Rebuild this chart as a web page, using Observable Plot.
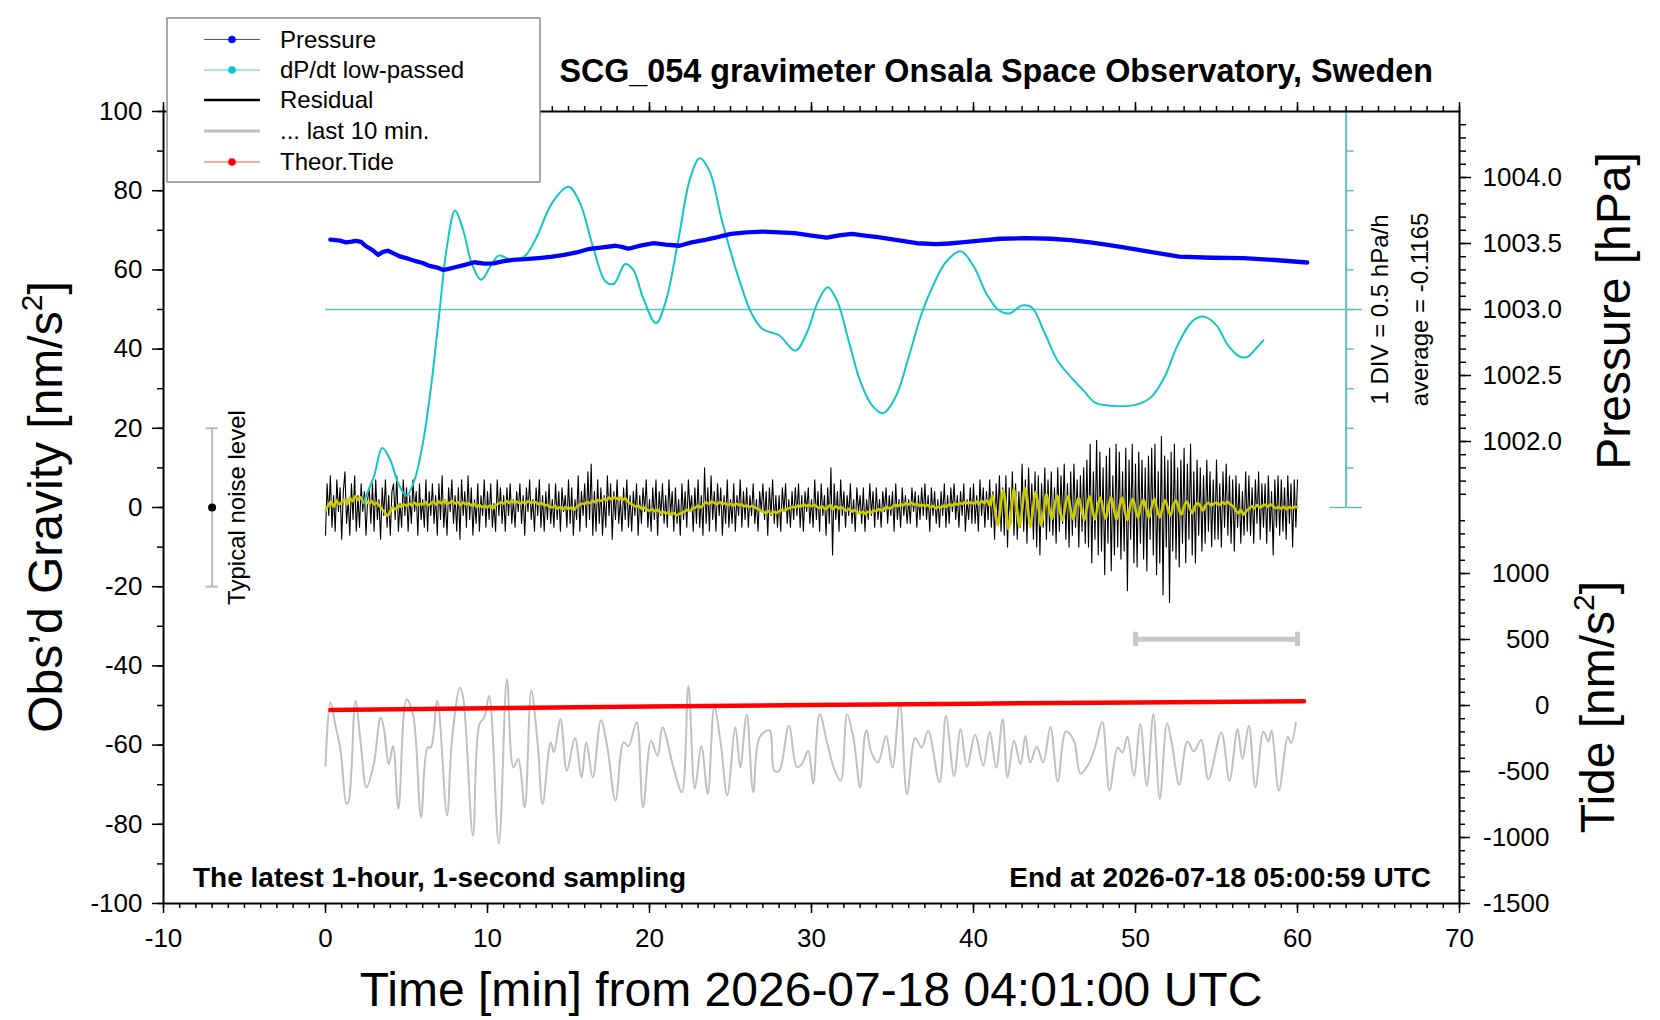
<!DOCTYPE html>
<html>
<head>
<meta charset="utf-8">
<script src="https://cdn.jsdelivr.net/npm/d3@7"></script>
<script src="https://cdn.jsdelivr.net/npm/@observablehq/plot@0.6"></script>
<style>
  html, body { margin: 0; padding: 0; background: #ffffff; }
  #chart svg { display: block; }
</style>
</head>
<body>
<div id="chart"></div>
<script>
// ---------------- DATA ----------------
const titleText = "SCG_054 gravimeter Onsala Space Observatory, Sweden";
const xLabelText = "Time [min] from 2026-07-18 04:01:00 UTC";
const noteLeft = "The latest 1-hour, 1-second sampling";
const noteRight = "End at 2026-07-18 05:00:59 UTC";
const legendLabels = ["Pressure", "dP/dt low-passed", "Residual", "... last 10 min.", "Theor.Tide"];

// tick values
const xMajorTicks = [-10, 0, 10, 20, 30, 40, 50, 60, 70];
const xMinorTicks = d3.range(-10, 71, 1);
const yMajorTicks = [-100, -80, -60, -40, -20, 0, 20, 40, 60, 80, 100];
const yMinorTicks = d3.range(-100, 101, 10);
const pressureMajorTicks = [1002.0, 1002.5, 1003.0, 1003.5, 1004.0];
const pressureMinorTicks = d3.range(16, 45).map(k => 1000 + k / 10);
const tideMajorTicks = [-1500, -1000, -500, 0, 500, 1000];
const tideMinorTicks = d3.range(-1500, 1401, 100);

// Pressure [hPa]
const pressureTime = [0.3, 0.48, 0.9, 1.27, 1.6, 1.87, 2.2, 2.46, 2.9, 3.25, 3.55, 3.85, 4.2, 4.64, 5.1, 5.63, 6.0, 6.42, 6.9, 7.28, 7.6, 8.0,
  8.6, 9.19, 9.8, 10.37, 11.0, 11.56, 12.3, 13.15, 13.9, 14.73, 15.5, 16.31, 17.1, 17.9, 18.3, 18.69, 19.5, 20.27, 21.0, 21.85,
  22.6, 23.43, 24.2, 25.02, 26.0, 27.0, 28.0, 28.97, 30.0, 30.95, 31.7, 32.5, 33.3, 34.1, 35.3, 36.5, 37.7, 38.5, 39.26,
  40.4, 41.64, 43.2, 44.8, 46.0, 47.2, 48.4, 49.55, 51.1, 52.7, 54.7, 56.67, 58.6, 60.6];
const pressureHPa = [1003.530, 1003.528, 1003.522, 1003.508, 1003.514, 1003.520, 1003.512, 1003.483, 1003.450, 1003.414, 1003.436, 1003.445, 1003.425, 1003.400, 1003.385, 1003.364, 1003.352, 1003.330, 1003.318, 1003.300, 1003.308, 1003.320,
  1003.338, 1003.358, 1003.348, 1003.350, 1003.366, 1003.376, 1003.381, 1003.390, 1003.398, 1003.414, 1003.432, 1003.460, 1003.470, 1003.483, 1003.474, 1003.460, 1003.486, 1003.502, 1003.492, 1003.483,
  1003.508, 1003.528, 1003.548, 1003.573, 1003.584, 1003.590, 1003.585, 1003.578, 1003.560, 1003.545, 1003.562, 1003.573, 1003.560, 1003.548, 1003.525, 1003.502, 1003.495, 1003.500, 1003.508,
  1003.522, 1003.536, 1003.540, 1003.536, 1003.526, 1003.508, 1003.488, 1003.465, 1003.432, 1003.400, 1003.392, 1003.389, 1003.375, 1003.356];

// dP/dt low-passed, in plot divisions (centre line = average, 10 units = 0.5 hPa/h)
const dpdtTime = [2.3, 3.0, 3.5, 4.0, 4.5, 5.0, 5.5, 6.0, 6.5, 7.0,
  7.5, 8.0, 8.5, 9.0, 9.6, 10.2, 10.7, 11.5, 12.3, 13.0,
  14.0, 15.0, 15.7, 16.5, 17.3, 17.8, 18.5, 19.0, 19.6, 20.4,
  21.0, 21.8, 22.5, 23.1, 23.7, 24.5, 25.5, 26.3, 27.0, 28.0,
  29.0, 29.7, 30.4, 31.0, 31.6, 32.3, 33.0, 33.7, 34.4, 35.2,
  36.0, 36.8, 37.5, 38.3, 39.2, 40.0, 40.8, 41.5, 42.2, 43.0,
  43.6, 44.4, 45.2, 46.0, 46.8, 47.5, 48.5, 49.5, 50.3, 51.0,
  51.8, 52.6, 53.5, 54.2, 55.0, 55.7, 56.4, 56.9, 57.4, 57.9];
const dpdtPlotted = [1, 8, 15, 12, 6, 3, 7, 16, 30, 48,
  66, 75, 70, 62, 57.5, 61, 63.6, 62.5, 63.5, 68,
  77, 81, 77, 66, 57, 56.5, 61.5, 60, 53, 46.5,
  52, 68, 83, 88.2, 85, 72, 58, 49, 45, 43.5,
  39.6, 44, 52, 55.6, 52, 42, 32, 26, 23.8, 28,
  38, 49, 56, 62, 64.7, 61, 54, 50, 49, 51,
  50.5, 44, 37, 33, 29.5, 26.5, 25.7, 25.6, 26.3, 28,
  33, 41, 47, 48.2, 46, 41, 38.2, 38, 40, 42.2];

// Residual [nm/s^2], one value every 6 s (10 per minute), 0..60 min
const residual = [
  -7, 6, -2, 8, -5, 3, -6, 7, -1, 5,
  -8, 4, 9, -4, 2, -7, 6, -3, 8, -6,
  3, -5, 6, -1, 4, -7, 2, 5, -4, 6,
  -6, 7, -3, 2, -8, 5, -2, 7, -5, 3,
  -7, 4, 6, -3, 8, -6, 1, -5, 7, -2,
  5, -6, 3, -4, 7, -1, 4, -7, 6, -3,
  2, -5, 7, -6, 4, -2, 6, -4, 3, -7,
  6, -3, 8, -5, 2, -7, 5, -1, 7, -4,
  3, -6, 5, -8, 7, -2, 4, -5, 8, -3,
  5, -7, 2, -4, 6, -6, 3, -2, 7, -5,
  4, -3, 6, -5, 1, -6, 7, -2, 5, -4,
  3, -6, 5, -2, 6, -4, 2, -5, 4, -1,
  6, -4, 3, -7, 5, -1, 7, -3, 2, -6,
  5, -2, 7, -5, 3, -6, 4, -3, 6, -4,
  2, -5, 6, -3, 4, -6, 5, -1, 3, -5,
  7, -4, 5, -7, 2, -3, 8, -6, 4, -2,
  6, -5, 9, -3, 11, -7, 4, -6, 7, -4,
  5, -7, 3, -5, 8, -2, 6, -8, 4, -3,
  7, -4, 2, -6, 5, -3, 7, -5, 3, -6,
  4, -2, 6, -7, 3, -4, 5, -1, 7, -5,
  2, -6, 5, -3, 7, -7, 4, -2, 6, -4,
  3, -5, 7, -2, 4, -6, 5, -4, 2, -7,
  6, -3, 4, -5, 7, -1, 3, -6, 5, -4,
  7, -5, 3, -7, 10, -4, 5, -6, 8, -3,
  4, -6, 6, -2, 5, -7, 3, -4, 7, -5,
  2, -4, 6, -6, 3, -2, 7, -5, 4, -3,
  5, -5, 3, -2, 6, -4, 2, -6, 4, -1,
  6, -3, 4, -7, 5, -2, 7, -4, 3, -5,
  3, -6, 5, -1, 6, -4, 2, -5, 4, -3,
  5, -2, 6, -5, 3, -6, 4, -1, 5, -4,
  2, -5, 7, -3, 4, -6, 6, -2, 3, -7,
  5, -4, 10, -12, 6, -3, 4, -6, 7, -2,
  4, -5, 3, -2, 6, -4, 2, -6, 5, -1,
  3, -4, 5, -6, 2, -3, 6, -2, 4, -5,
  5, -3, 2, -5, 4, -1, 5, -4, 3, -2,
  4, -6, 6, -3, 2, -5, 5, -2, 3, -4,
  2, -4, 5, -1, 4, -5, 3, -3, 5, -2,
  6, -3, 3, -6, 5, -2, 4, -4, 2, -5,
  4, -2, 6, -5, 3, -4, 5, -1, 6, -3,
  3, -5, 4, -2, 6, -6, 2, -3, 5, -4,
  6, -4, 3, -6, 7, -2, 5, -5, 4, -3,
  7, -5, 4, -8, 6, -3, 8, -6, 5, -7,
  8, -10, 5, -4, 9, -7, 6, -8, 4, -5,
  11, -6, 7, -9, 10, -4, 6, -8, 9, -10,
  8, -12, 6, -5, 10, -8, 7, -6, 9, -7,
  5, -9, 10, -6, 8, -4, 11, -8, 6, -10,
  9, -7, 11, -5, 7, -10, 8, -6, 10, -9,
  12, -10, 16, -14, 9, -8, 17, -12, 14, -11,
  10, -17, 13, -9, 15, -16, 8, -12, 16, -10,
  14, -13, 9, -11, 15, -21, 12, -8, 16, -14,
  11, -15, 14, -9, 12, -13, 10, -16, 13, -8,
  15, -12, 16, -17, 9, -14, 18, -22, 13, -10,
  12, -24, 14, -11, 16, -13, 10, -15, 12, -9,
  15, -14, 11, -8, 16, -12, 9, -14, 12, -7,
  10, -11, 8, -9, 12, -6, 9, -10, 7, -8,
  12, -8, 6, -10, 9, -5, 11, -7, 8, -9,
  7, -11, 8, -5, 6, -9, 4, -7, 9, -6,
  8, -7, 5, -9, 7, -4, 9, -8, 6, -5,
  6, -9, 8, -6, 4, -12, 7, -5, 8, -7,
  7, -6, 5, -8, 8, -4, 6, -10, 7, -5,
  7];

// Low-passed residual (yellow) [nm/s^2], one value every 10 s (6 per minute)
const residualSmooth = [
  -0.8, 0.5, 1.5, 0.2, 1.8, 0.8,
  1.3, 2.0, 0.8, 2.5, 1.5, 2.8,
  2.0, 2.6, 1.2, 1.8, 1.0, 1.6,
  0.8, 1.2, 0.4, -0.5, -1.2, -2.1,
  -1.0, 0.1, -0.5, 0.5, 0.2, 0.8,
  0.4, 1.0, 0.5, 1.2, 0.6, 0.9,
  0.8, 1.4, 0.6, 1.0, 1.5, 0.7,
  1.5, 1.0, 1.8, 0.9, 1.2, 1.6,
  1.0, 1.4, 0.6, 1.3, 0.8, 1.1,
  0.5, 0.9, 0.2, 0.6, 0.1, 0.4,
  0.0, 0.5, -0.2, 0.6, 0.9, 1.3,
  1.0, 1.6, 1.1, 1.7, 1.2, 1.5,
  1.0, 1.4, 0.9, 1.6, 1.2, 1.3,
  1.3, 0.8, 1.2, 0.5, 0.7, 0.2,
  0.0, 0.4, -0.3, 0.1, -0.4, 0.2,
  -0.4, 0.0, -0.6, 0.2, 0.6, 1.0,
  0.9, 1.4, 1.1, 1.7, 1.3, 1.9,
  1.7, 2.2, 1.8, 2.5, 2.0, 2.6,
  2.2, 2.5, 1.9, 2.3, 1.5, 1.0,
  0.6, 0.2, 0.5, -0.3, 0.0, -0.5,
  -0.8, -0.4, -1.0, -0.6, -1.3, -1.0,
  -1.5, -1.2, -1.8, -1.4, -2.0, -1.6,
  -1.4, -1.0, -0.6, -0.9, -0.2, 0.0,
  0.4, 0.0, 0.8, 1.3, 0.9, 1.5,
  1.2, 0.8, 1.4, 0.9, 1.1, 0.6,
  0.9, 0.5, 1.0, 0.6, 0.8, 0.3,
  0.5, 0.1, 0.4, 0.0, -0.3, -0.8,
  -1.0, -1.4, -0.9, -1.5, -1.1, -1.3,
  -1.0, -0.6, -0.9, -0.3, -0.1, 0.2,
  0.0, 0.5, 0.2, 0.8, 0.4, 0.6,
  0.3, 0.7, 0.2, -0.2, 0.3, -0.4,
  0.0, 0.6, -0.5, 0.3, -0.2, 0.1,
  -0.4, -0.8, -0.3, -1.0, -0.6, -1.2,
  -1.5, -1.1, -1.6, -1.0, -1.3, -0.8,
  -0.9, -0.4, -0.7, -0.2, 0.1, -0.3,
  0.2, 0.6, 0.3, 0.9, 0.5, 1.1,
  0.8, 1.2, 0.7, 1.0, 0.4, 0.7,
  0.3, 0.6, 0.1, 0.4, -0.2, 0.2,
  0.0, 0.5, 0.2, 0.8, 0.5, 1.0,
  0.7, 1.2, 0.9, 1.4, 1.0, 1.3,
  1.0, 1.5, 0.8, 1.6, 1.1, 1.8,
  0.5, 3.0, -1.0, -4.5, 0.0, 4.5,
  0.5, -5.5, -1.0, 4.8, 0.0, -5.0,
  -0.5, 5.0, 0.5, -5.0, -0.5, 4.0,
  0.5, -4.5, -1.0, 3.5, 0.0, -3.0,
  0.5, 3.0, -1.0, -3.2, 0.2, 2.8,
  -0.5, -3.0, 0.5, 2.5, -0.5, -3.2,
  0.0, 2.8, -0.5, -3.0, 0.5, 2.5,
  -0.5, -2.8, 0.5, 2.6, -0.5, -3.0,
  0.0, 2.5, -0.8, -3.2, 0.3, 2.2,
  -0.5, -2.5, 0.5, 2.0, -0.5, -2.6,
  0.2, 2.2, -0.5, -2.5, 0.0, 1.8,
  -0.3, -2.0, 0.5, 1.8, -0.2, -1.8,
  0.3, 1.5, 0.0, -1.4, 0.2, 1.2,
  0.4, -0.8, 0.6, 1.2, 0.5, 1.0,
  1.2, 0.6, 1.4, 0.9, 1.5, 0.8,
  0.4, -0.5, -1.5, -0.6, -1.8, -0.9,
  -0.4, 0.3, -0.2, 0.6, 0.0, 0.4,
  0.7, 0.2, 0.8, 0.3, -0.2, 0.1,
  -0.3, 0.2, -0.4, 0.1, -0.2, 0.2,
  0.0];

// "... last 10 min." (residual of last 10 min, stretched over the 60-min width, offset)
const last10Time = [0, 0.3, 0.62, 0.93, 1.3, 1.44, 1.85, 2.16, 2.53, 2.98,
  3.4, 3.6, 3.9, 4.17, 4.5, 5.0, 5.4, 5.9, 6.3, 6.5,
  6.9, 7.5, 7.8, 8.3, 8.5, 9.1, 9.5, 9.8, 10.1, 10.7,
  11.2, 11.6, 11.9, 12.3, 12.7, 13.1, 13.4, 13.9, 14.1, 14.5,
  14.9, 15.4, 15.8, 16.1, 16.5, 17.0, 17.4, 17.9, 18.4, 18.7,
  19.2, 19.6, 20.1, 20.5, 20.8, 21.5, 22.0, 22.4, 22.8, 23.2,
  23.6, 24.0, 24.4, 24.8, 25.3, 25.6, 26.0, 26.4, 26.8, 27.4,
  27.7, 28.0, 28.6, 29.1, 29.4, 29.8, 30.1, 30.5, 31.0, 31.4,
  31.8, 32.2, 32.6, 33.0, 33.3, 33.4, 33.7, 34.1, 34.6, 35.0,
  35.45, 35.9, 36.4, 36.8, 37.2, 37.9, 38.3, 38.8, 39.2, 39.6,
  40.1, 40.6, 41.0, 41.4, 41.8, 42.1, 42.5, 42.9, 43.2, 43.5,
  43.9, 44.3, 44.75, 45.2, 45.7, 46.2, 46.6, 47.1, 47.5, 47.95,
  48.4, 48.9, 49.2, 49.5, 49.9, 50.3, 50.7, 51.1, 51.5, 51.95,
  52.25, 52.7, 53.2, 53.6, 54.05, 54.5, 55.3, 55.8, 56.3, 56.6,
  57.0, 57.4, 57.9, 58.2, 58.4, 58.85, 59.4, 59.6, 59.9];
const last10Value = [-65.2, -49.2, -55.1, -61.4, -74.9, -74, -48.8, -58.9, -70.7, -64.8,
  -53, -55.6, -64.8, -60.2, -76.1, -48.4, -52.2, -78.2, -60.6, -60.6,
  -48.8, -77.8, -58.9, -45.5, -48, -82.8, -54.7, -53, -47.6, -84.9,
  -43.3, -65.6, -63.5, -75.7, -46.3, -59.7, -74.9, -59.3, -61.8, -53.4,
  -66.5, -58.2, -68.2, -59.3, -68.2, -53.7, -60.6, -74, -59.3, -60.3,
  -54.2, -75.7, -58.9, -62.7, -55.5, -66, -71.9, -45, -71, -60.2,
  -72.3, -50.4, -59.7, -72.7, -55.5, -65.6, -52.2, -71.9, -58, -56.3,
  -66.5, -66.5, -55.1, -65.6, -64.8, -61.4, -69.8, -52.2, -60, -66,
  -69, -52.2, -58.5, -70.7, -57.2, -56.2, -61.9, -64.4, -57.7, -65.7,
  -49.2, -72.4, -58.2, -60.6, -56.4, -69.4, -52.6, -67.8, -56, -65.5,
  -57.4, -65.2, -56.6, -65.7, -53.4, -68.2, -58.9, -64.8, -57.7, -64.4,
  -60.4, -64.4, -55.4, -69.2, -56.6, -58.9, -67.2, -64.8, -60.6, -54.1,
  -71.5, -60.6, -61.9, -57.9, -67.8, -54.7, -70.3, -52.2, -73.6, -54.5,
  -59.7, -70, -59.1, -61.6, -58.7, -68.6, -56.8, -69, -56, -63.5,
  -55.1, -70.7, -56.6, -59.1, -56.4, -71.5, -57.9, -59.5, -54.3];

// Theoretical tide [nm/s^2]
const tideTime = [0.3, 10, 20, 30, 40, 50, 60.4];
const tideValue = [-35, -21, -8, 4, 14, 23, 32];

// ---------------- SCALE HELPERS ----------------
const pToY = p => 50 + (p - 1003) / 0.03;      // hPa -> left-axis units
const yToP = y => 1003 + (y - 50) * 0.03;
const tToY = t => -50 + t / 30;                // tide nm/s^2 -> left-axis units
const yToT = y => (y + 50) * 30;

const FONT = "'Liberation Sans', Arial, Helvetica, sans-serif";
const CYAN = "#14c6c6";
const CYAN_AXIS = "#62c0c0";
const GRAY = "#c0c0c0";

const pressureData = pressureTime.map((t, i) => ({t, v: pToY(pressureHPa[i])}));
const dpdtData = dpdtTime.map((t, i) => ({t, v: dpdtPlotted[i]}));
const residData = residual.map((v, i) => ({t: i / 10, v}));
const smoothData = residualSmooth.map((v, i) => ({t: i / 6, v}));
const last10Data = last10Time.map((t, i) => ({t, v: last10Value[i]}));
const tideData = tideTime.map((t, i) => ({t, v: tToY(tideValue[i])}));

const blank = () => "";
const plain = d => String(d);

const chart = Plot.plot({
  width: 1660,
  height: 1020,
  marginLeft: 163,
  marginRight: 201,
  marginTop: 111,
  marginBottom: 117,
  x: {domain: [-10, 70], axis: null, label: null},
  y: {domain: [-100, 100], axis: null, label: null},
  style: {fontFamily: FONT, fontSize: "26px", color: "black", background: "white"},
  marks: [
    // dP/dt reference scale
    Plot.ruleY([50], {x1: 0, x2: 64, stroke: CYAN_AXIS, strokeWidth: 1.5}),
    Plot.ruleX([63], {y1: 0, y2: 100, stroke: CYAN_AXIS, strokeWidth: 2}),
    Plot.ruleY(d3.range(10, 100, 10), {x1: 63, x2: 63.5, stroke: CYAN_AXIS, strokeWidth: 1.5}),
    Plot.ruleY([0, 100], {x1: 62, x2: 64, stroke: CYAN_AXIS, strokeWidth: 1.5}),
    Plot.text(["1 DIV = 0.5 hPa/h"], {x: 65.1, y: 50, rotate: -90, fontSize: 24, fill: "black"}),
    Plot.text(["average = -0.1165"], {x: 67.6, y: 50, rotate: -90, fontSize: 24, fill: "black"}),

    // data
    Plot.line(last10Data, {x: "t", y: "v", stroke: GRAY, strokeWidth: 2, curve: "catmull-rom"}),
    Plot.line(residData, {x: "t", y: "v", stroke: "black", strokeWidth: 1.1}),
    Plot.line(smoothData, {x: "t", y: "v", stroke: "#cccc00", strokeWidth: 2.6, curve: "catmull-rom"}),
    Plot.line(dpdtData, {x: "t", y: "v", stroke: CYAN, strokeWidth: 2, curve: "catmull-rom"}),
    Plot.line(pressureData, {x: "t", y: "v", stroke: "#0000ff", strokeWidth: 4.3}),
    Plot.line(tideData, {x: "t", y: "v", stroke: "#ff0000", strokeWidth: 4.5}),

    // typical noise level bar
    Plot.ruleX([-7], {y1: -20, y2: 20, stroke: "#bbbbbb", strokeWidth: 2}),
    Plot.ruleY([-20, 20], {x1: -7.37, x2: -6.63, stroke: "#bbbbbb", strokeWidth: 2}),
    Plot.dot([0], {x: () => -7, y: d => d, r: 4, fill: "black", stroke: null}),
    Plot.text(["Typical noise level"], {x: -5.45, y: 0, rotate: -90, fontSize: 24, fill: "black"}),

    // last 10 min time bar
    Plot.ruleY([-33.3], {x1: 50, x2: 60, stroke: "#c8c8c8", strokeWidth: 5}),
    Plot.ruleX([50, 60], {y1: -35.1, y2: -31.5, stroke: "#c8c8c8", strokeWidth: 5}),

    // frame and axes
    Plot.frame({stroke: "black", strokeWidth: 2}),
    Plot.axisX({ticks: xMinorTicks, tickSize: 5, tickFormat: blank, strokeWidth: 1.5, label: null}),
    Plot.axisX({ticks: xMajorTicks, tickSize: 10, tickPadding: 15, strokeWidth: 1.5, fontSize: 26, label: null, tickFormat: plain}),
    Plot.axisX({anchor: "top", ticks: xMinorTicks, tickSize: 6, tickFormat: blank, strokeWidth: 1.5, label: null}),
    Plot.axisX({anchor: "top", ticks: xMajorTicks, tickSize: 10, tickFormat: blank, strokeWidth: 1.5, label: null}),
    Plot.axisY({ticks: yMinorTicks, tickSize: 6, tickFormat: blank, strokeWidth: 1.5, label: null}),
    Plot.axisY({ticks: yMajorTicks, tickSize: 11, tickPadding: 10, strokeWidth: 1.5, fontSize: 26, label: null, tickFormat: plain}),
    Plot.axisY({anchor: "right", ticks: pressureMinorTicks.map(pToY), tickSize: 6, tickFormat: blank, strokeWidth: 1.5, label: null}),
    Plot.axisY({anchor: "right", ticks: pressureMajorTicks.map(pToY), tickSize: 11, tickPadding: 12, strokeWidth: 1.5, fontSize: 26, label: null,
      tickFormat: d => yToP(d).toFixed(1)}),
    Plot.axisY({anchor: "right", ticks: tideMinorTicks.map(tToY), tickSize: 5, tickFormat: blank, strokeWidth: 1.5, label: null}),
    Plot.axisY({anchor: "right", ticks: tideMajorTicks.map(tToY), tickSize: 10, tickPadding: 80, textAnchor: "end", strokeWidth: 1.5, fontSize: 26, label: null,
      tickFormat: d => String(Math.round(yToT(d)))})
  ]
});

document.getElementById("chart").appendChild(chart);

// ---------------- TEXT / LEGEND OVERLAY ----------------
const svg = d3.select(chart);
const g = svg.append("g").attr("font-family", FONT).attr("fill", "black").attr("text-anchor", "start");

g.append("text").attr("x", 1433).attr("y", 82).attr("text-anchor", "end")
  .attr("font-size", 32.3).attr("font-weight", "bold").text(titleText);

g.append("text").attr("x", 193).attr("y", 887).attr("text-anchor", "start").attr("font-size", 28).attr("font-weight", "bold").text(noteLeft);
g.append("text").attr("x", 1431).attr("y", 887).attr("text-anchor", "end").attr("font-size", 28).attr("font-weight", "bold").text(noteRight);

g.append("text").attr("x", 811).attr("y", 1006).attr("text-anchor", "middle").attr("font-size", 48).text(xLabelText);

function rotLabel(cx, cy, main, sup, tail) {
  const t = g.append("text").attr("transform", `translate(${cx},${cy}) rotate(-90)`)
    .attr("text-anchor", "middle").attr("dy", "0.35em").attr("font-size", 48);
  t.append("tspan").text(main);
  if (sup) {
    t.append("tspan").attr("font-size", 30).attr("dy", -20).text(sup);
    t.append("tspan").attr("dy", 20).text(tail);
  }
}
rotLabel(45, 507, "Obs\u2019d Gravity [nm/s", "2", "]");
rotLabel(1613, 311, "Pressure [hPa]");
rotLabel(1597, 707, "Tide [nm/s", "2", "]");

// legend
const lg = g.append("g");
lg.append("rect").attr("x", 167).attr("y", 18).attr("width", 373).attr("height", 164)
  .attr("fill", "white").attr("stroke", "#8a8a8a").attr("stroke-width", 1.5);
const legendStyles = [
  {stroke: "#4040ff", width: 1, dot: "#0000ff"},
  {stroke: "#40d0d0", width: 1, dot: "#00c8c8"},
  {stroke: "black", width: 2.5, dot: null},
  {stroke: "#c0c0c0", width: 3, dot: null},
  {stroke: "#ff5050", width: 1, dot: "#ff0000"}
];
const legendRows = [39.5, 70, 100, 131, 162];
legendLabels.forEach((label, i) => {
  const y = legendRows[i];
  const s = legendStyles[i];
  lg.append("line").attr("x1", 204).attr("x2", 260).attr("y1", y).attr("y2", y)
    .attr("stroke", s.stroke).attr("stroke-width", s.width);
  if (s.dot) lg.append("circle").attr("cx", 232).attr("cy", y).attr("r", 3.8).attr("fill", s.dot);
  lg.append("text").attr("x", 280).attr("y", y).attr("dy", "0.35em").attr("text-anchor", "start").attr("font-size", 24).text(label);
});
</script>
</body>
</html>
